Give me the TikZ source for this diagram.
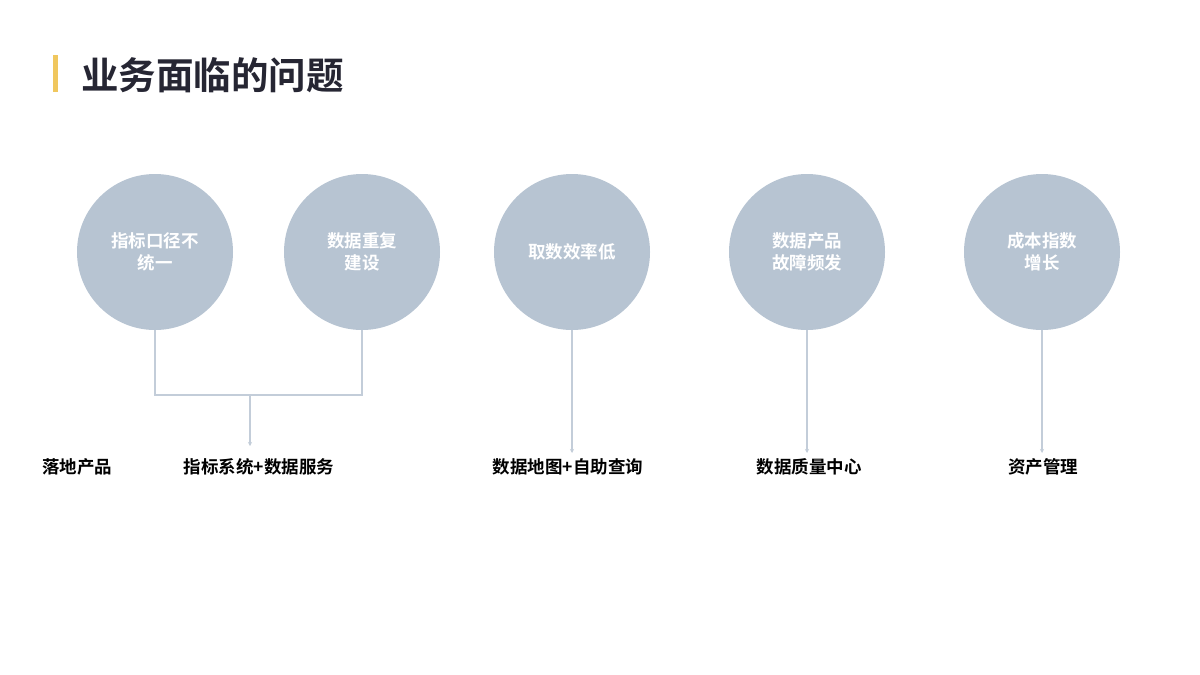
\documentclass[tikz,border=0pt]{standalone}
\usepackage{fontspec}
\newfontfamily\cjk{Noto Sans CJK SC}
\newfontfamily\cjkb{Noto Sans CJK SC Bold}
\usetikzlibrary{arrows.meta}
\definecolor{circfill}{HTML}{B7C4D2}
\definecolor{linec}{HTML}{C3CDD9}
\definecolor{titlec}{HTML}{262633}
\definecolor{barc}{HTML}{F0C75E}
\begin{document}
\begin{tikzpicture}[x=1pt,y=-1pt,
  prob/.style={circle,fill=circfill,minimum size=156pt,inner sep=0pt,text=white,
    font=\cjkb\fontsize{17.5}{21.5}\selectfont,align=center},
  prod/.style={font=\cjkb\fontsize{17.5}{20}\selectfont,text=black,anchor=center},
  conn/.style={draw=linec,line width=1.1pt},
  arr/.style={conn,-{Stealth[length=4pt,width=4pt]}}]
\useasboundingbox[fill=white] (0,0) rectangle (1200,675);
\fill[barc] (53,55) rectangle (58,92);
\node[anchor=west,text=titlec,font=\cjkb\fontsize{37.5}{40}\selectfont,inner sep=0pt] (title) at (81,75) {业务面临的问题};
\node[prob] (c1) at (155,252) {指标口径不\\统一};
\node[prob] (c2) at (362,252) {数据重复\\建设};
\node[prob] (c3) at (572,252) {取数效率低};
\node[prob] (c4) at (807,252) {数据产品\\故障频发};
\node[prob] (c5) at (1042,252) {成本指数\\增长};
\node[prod] (l0) at (77,467) {落地产品};
\node[prod] (l1) at (259,467) {指标系统+数据服务};
\node[prod] (l2) at (568,467) {数据地图+自助查询};
\node[prod] (l3) at (809,467) {数据质量中心};
\node[prod] (l4) at (1043,467) {资产管理};
\coordinate (j) at (250,395);
\draw[conn] (c1.south) |- (j) -| (c2.south);
\draw[arr] (j) -- (250,446);
\draw[arr] (c3.south) -- (572,453);
\draw[arr] (c4.south) -- (807,453);
\draw[arr] (c5.south) -- (1042,453);
\end{tikzpicture}
\end{document}
